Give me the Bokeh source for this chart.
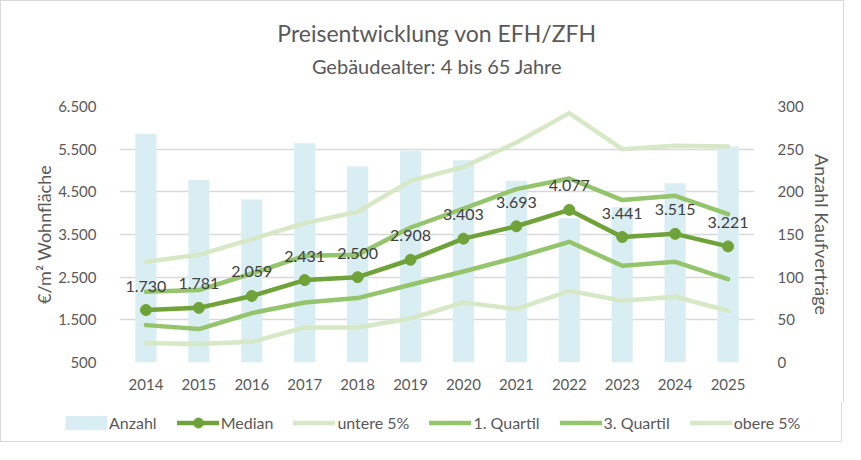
from bokeh.plotting import figure
from bokeh.models import (ColumnDataSource, LinearAxis, Range1d, FixedTicker,
                          Legend, LegendItem, Title, LabelSet, InlineStyleSheet)
from bokeh.core.properties import value
from bokeh.embed import file_html
from bokeh.resources import INLINE

years = [2014, 2015, 2016, 2017, 2018, 2019, 2020, 2021, 2022, 2023, 2024, 2025]
anzahl = [268, 214, 191, 257, 230, 248, 237, 213, 169, 182, 210, 253]
median = [1730, 1781, 2059, 2431, 2500, 2908, 3403, 3693, 4077, 3441, 3515, 3221]
untere5 = [955, 931, 985, 1320, 1320, 1531, 1906, 1751, 2180, 1946, 2040, 1712]
quartil1 = [1376, 1283, 1658, 1906, 2009, 2321, 2633, 2961, 3329, 2766, 2860, 2455]
quartil3 = [2157, 2197, 2586, 3000, 3024, 3664, 4109, 4564, 4812, 4306, 4407, 3978]
obere5 = [2860, 3024, 3392, 3767, 4032, 4758, 5086, 5656, 6345, 5501, 5578, 5562]

left_ticks = [500, 1500, 2500, 3500, 4500, 5500, 6500]
left_tick_labels = ["500", "1.500", "2.500", "3.500", "4.500", "5.500", "6.500"]
right_ticks = [0, 50, 100, 150, 200, 250, 300]

FONT = "Lato"
GRAY = "#595959"
C_BAR = "#D9EEF3"
C_MED = "#70A23A"
C_Q = "#94C46C"
C_5 = "#D6E8C5"
C_BORDER = "#D9D9D9"

src = ColumnDataSource(dict(
    year=years, anzahl=anzahl, median=median, untere5=untere5,
    q1=quartil1, q3=quartil3, obere5=obere5,
    lab=[f"{v:,}".replace(",", ".") for v in median],
))

common = dict(source=src, line_width=4.5, line_cap="round", line_join="round")

# ---------------- main chart ----------------
top_css = InlineStyleSheet(css=(
    f":host {{ outline: none; border-top: 1.5px solid {C_BORDER}; "
    f"border-left: 1.5px solid {C_BORDER}; border-right: 1.5px solid {C_BORDER}; }}"))
p = figure(frame_width=635, frame_height=256, output_backend="svg", toolbar_location=None,
           x_range=Range1d(2013.5, 2025.5), y_range=Range1d(500, 6500),
           min_border_left=118, min_border_right=89, min_border_top=105,
           min_border_bottom=40, stylesheets=[top_css])
p.title.visible = False
p.outline_line_color = None
p.background_fill_color = "white"
p.border_fill_color = "white"
p.extra_y_ranges = {"anz": Range1d(0, 300)}

p.vbar(x="year", top="anzahl", bottom=0, width=0.4, source=src,
       fill_color=C_BAR, line_color=None, y_range_name="anz")
p.line("year", "obere5", line_color=C_5, **common)
p.line("year", "untere5", line_color=C_5, **common)
p.line("year", "q3", line_color=C_Q, **common)
p.line("year", "q1", line_color=C_Q, **common)
p.line("year", "median", line_color=C_MED, **common)
p.scatter("year", "median", source=src, size=11, fill_color=C_MED, line_color=C_MED)

labels = LabelSet(x="year", y="median", text="lab", source=src, y_offset=24,
                  text_align="center", text_baseline="middle",
                  text_font=value(FONT), text_font_size="16px", text_color="#404040")
p.add_layout(labels)

p.xaxis.ticker = FixedTicker(ticks=years)
p.xaxis.axis_line_color = None
p.xaxis.major_tick_line_color = None
p.xaxis.minor_tick_line_color = None
p.xaxis.major_label_standoff = 10
p.xaxis.major_label_text_font = FONT
p.xaxis.major_label_text_font_size = "15px"
p.xaxis.major_label_text_color = GRAY

p.yaxis.ticker = FixedTicker(ticks=left_ticks)
p.yaxis.major_label_overrides = dict(zip(left_ticks, left_tick_labels))
p.yaxis.axis_line_color = None
p.yaxis.major_tick_line_color = None
p.yaxis.minor_tick_line_color = None
p.yaxis.major_label_standoff = 17
p.yaxis.major_label_text_font = FONT
p.yaxis.major_label_text_font_size = "15px"
p.yaxis.major_label_text_color = GRAY
p.yaxis.axis_label = "€/m² Wohnfläche"
p.yaxis.axis_label_text_font = FONT
p.yaxis.axis_label_text_font_size = "18px"
p.yaxis.axis_label_text_font_style = "normal"
p.yaxis.axis_label_text_color = GRAY
p.yaxis.axis_label_standoff = 0

ra = LinearAxis(y_range_name="anz", ticker=FixedTicker(ticks=right_ticks))
ra.axis_line_color = None
ra.major_tick_line_color = None
ra.minor_tick_line_color = None
ra.major_label_standoff = 17
ra.major_label_text_font = FONT
ra.major_label_text_font_size = "15px"
ra.major_label_text_color = GRAY
ra.axis_label = "Anzahl Kaufverträge"
ra.axis_label_text_font = FONT
ra.axis_label_text_font_size = "18px"
ra.axis_label_text_font_style = "normal"
ra.axis_label_text_color = GRAY
ra.axis_label_standoff = 4
p.add_layout(ra, "right")

p.xgrid.grid_line_color = None
p.ygrid.grid_line_color = "#D9D9D9"
p.ygrid.grid_line_width = 1.5

# titles (first added = closest to the plot)
p.add_layout(Title(text=" ", text_font_size="1px", standoff=22), "above")
p.add_layout(Title(text="Gebäudealter: 4 bis 65 Jahre", align="center",
                   text_font=FONT, text_font_size="20px", text_font_style="normal",
                   text_color=GRAY, standoff=7), "above")
p.add_layout(Title(text="Preisentwicklung von EFH/ZFH", align="center",
                   text_font=FONT, text_font_size="23px", text_font_style="normal",
                   text_color=GRAY, standoff=3), "above")

# ---------------- legend strip (separate root, own frame) ----------------
bot_css = InlineStyleSheet(css=(
    f":host {{ outline: none; border-bottom: 1.5px solid {C_BORDER}; "
    f"border-left: 1.5px solid {C_BORDER}; border-right: 1.5px solid {C_BORDER}; }}"))
lg = figure(width=842, height=40, output_backend="svg", toolbar_location=None,
            x_range=Range1d(0, 1), y_range=Range1d(0, 1),
            x_axis_location=None, y_axis_location=None,
            min_border_left=0, min_border_right=0, min_border_top=0, min_border_bottom=0,
            stylesheets=[bot_css])
lg.title.visible = False
lg.outline_line_color = None
lg.xgrid.visible = False
lg.ygrid.visible = False

# legend samples (outside the visible range of this strip)
s_bar = lg.line("year", "anzahl", source=src, line_color=C_BAR, line_width=14, line_cap="butt")
s_md = lg.line("year", "median", line_color=C_MED, **common)
s_mp = lg.scatter("year", "median", source=src, size=11, fill_color=C_MED, line_color=C_MED)
s_u5 = lg.line("year", "untere5", line_color=C_5, **common)
s_q1 = lg.line("year", "q1", line_color=C_Q, **common)
s_q3 = lg.line("year", "q3", line_color=C_Q, **common)
s_o5 = lg.line("year", "obere5", line_color=C_5, **common)

legend = Legend(items=[
    LegendItem(label="Anzahl", renderers=[s_bar]),
    LegendItem(label="Median", renderers=[s_md, s_mp]),
    LegendItem(label="untere 5%", renderers=[s_u5]),
    LegendItem(label="1. Quartil", renderers=[s_q1]),
    LegendItem(label="3. Quartil", renderers=[s_q3]),
    LegendItem(label="obere 5%", renderers=[s_o5]),
], orientation="horizontal", location=(64, 7))
legend.border_line_color = None
legend.background_fill_alpha = 0
legend.label_text_font = FONT
legend.label_text_font_size = "16px"
legend.label_text_color = GRAY
legend.glyph_width = 42
legend.glyph_height = 25
legend.label_standoff = 2
legend.spacing = 20
legend.padding = 0
legend.margin = 0
lg.add_layout(legend, "center")

open("out.html", "w").write(file_html((p, lg), INLINE))
